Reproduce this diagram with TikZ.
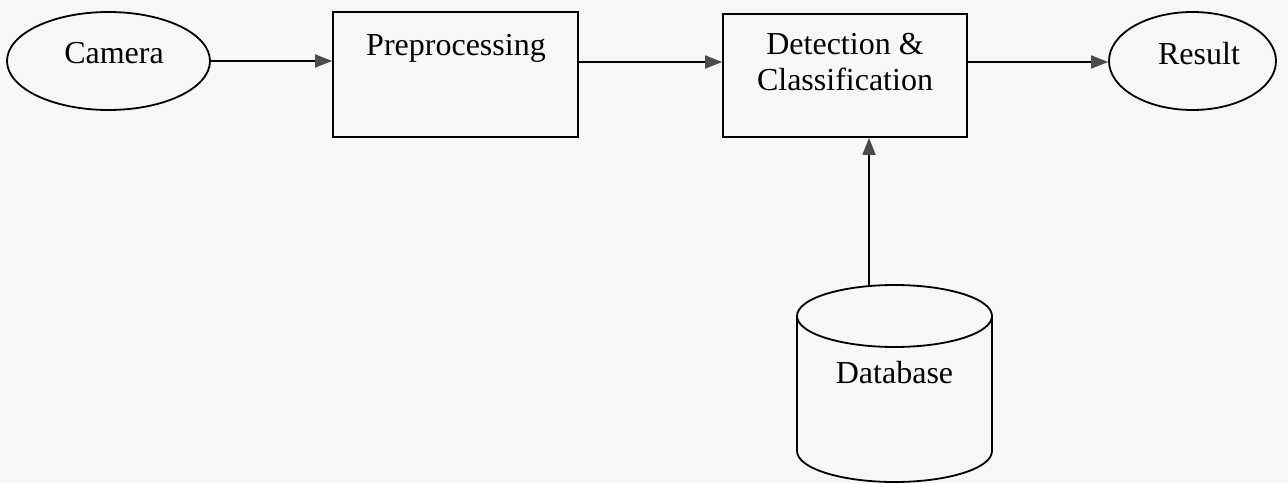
\documentclass[tikz,border=0pt]{standalone}
\usepackage{fontspec}
\setmainfont{Liberation Serif}
\usetikzlibrary{arrows.meta,shapes.geometric}
\definecolor{paper}{RGB}{247,247,245}
\definecolor{tipgray}{RGB}{75,75,75}
\tikzset{
  outline/.style={draw=black, line width=1.8pt},
  ovalbox/.style={outline, ellipse, inner sep=0pt},
  stagebox/.style={outline, rectangle, inner sep=0pt},
  caption/.style={anchor=base, inner sep=0pt, font=\fontsize{32}{36}\selectfont},
  flow/.style={draw=black, line width=1.8pt, -{Triangle[length=17pt,width=13pt,color=tipgray]}}
}
\begin{document}
\begin{tikzpicture}[x=1pt,y=1pt]
  % page
  \fill[paper] (0,0) rectangle (1288,483);
  \useasboundingbox (0,0) rectangle (1288,483);

  % stages
  \node[ovalbox, minimum width=203pt, minimum height=98pt] (cam) at (108.5,422) {};
  \node[caption] (camtxt) at (114,419) {Camera};

  \node[stagebox, minimum width=245pt, minimum height=125pt] (prep) at (455.5,408.5) {};
  \node[caption] (preptxt) at (456,427) {Preprocessing};

  \node[stagebox, minimum width=244pt, minimum height=123pt] (det) at (845,407.5) {};
  \node[caption] (dettxt) at (845,428) {Detection \&};
  \node[caption] (clstxt) at (845,392) {Classification};

  \node[ovalbox, minimum width=167pt, minimum height=98pt] (res) at (1192.5,422) {};
  \node[caption] (restxt) at (1199,418) {Result};

  % database cylinder
  \draw[outline] (894.5,167) ellipse [x radius=97.5, y radius=31];
  \draw[outline] (797,167) -- (797,32) arc [start angle=180, end angle=360, x radius=97.5, y radius=31] -- (992,167);
  \node[caption] (dbtxt) at (894.5,100) {Database};
  \coordinate (dbtop) at (869,197);

  % connectors
  \draw[flow] (cam.east) -- (cam.east -| prep.west);
  \draw[flow] (prep.east |- 0,421) -- (det.west |- 0,421);
  \draw[flow] (det.east |- 0,421) -- (res.west |- 0,421);
  \draw[flow] (dbtop) -- (dbtop |- det.south);
\end{tikzpicture}
\end{document}
